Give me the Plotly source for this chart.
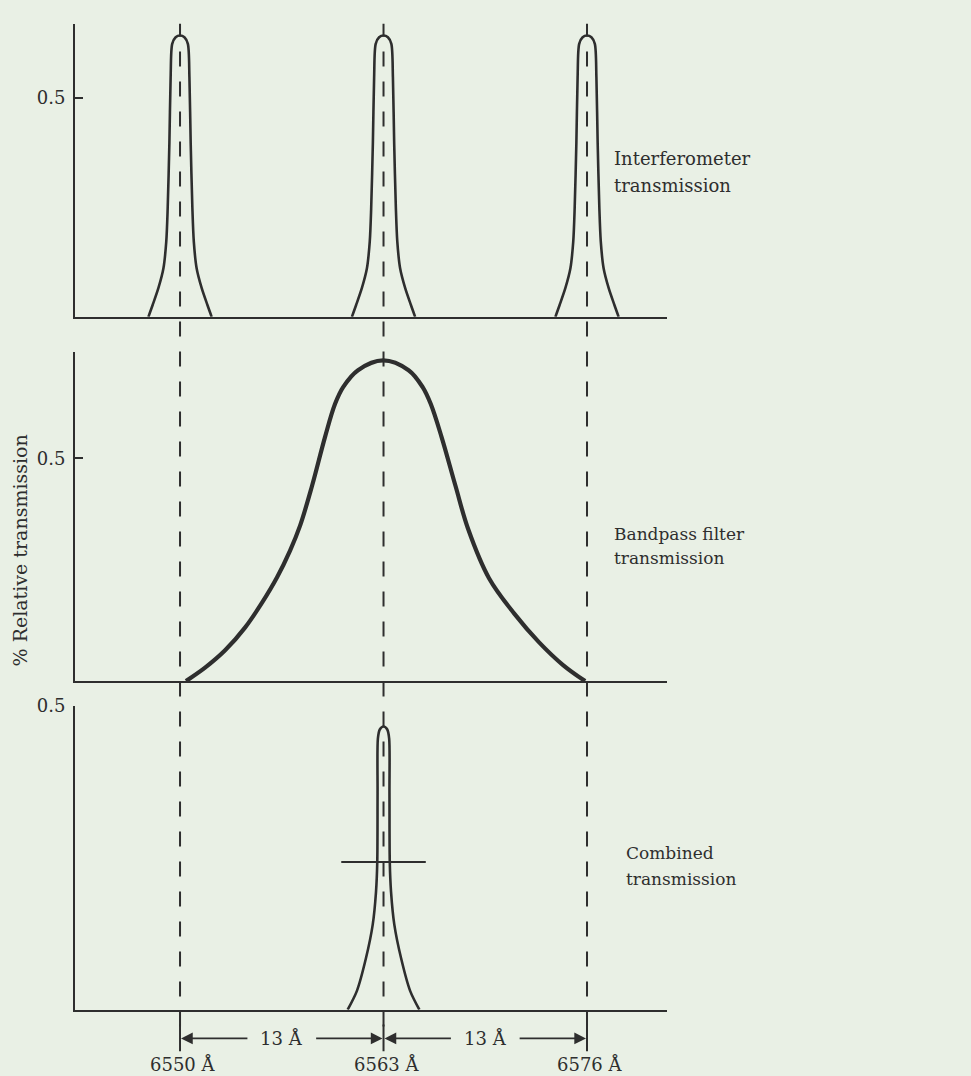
import plotly.graph_objects as go

# ---------------- data ----------------
line_centers = [6550, 6563, 6576]            # Å, dashed reference lines
center_labels = ["6550 Å", "6563 Å", "6576 Å"]
spacing_labels = ["13 Å", "13 Å"]
y_tick_vals = [0.5]
y_tick_text = ["0.5"]

# Interferometer transmission peak profile (offset from centre in Å, value)
interf_offset = [-2.02, -1.75, -1.38, -1.06, -0.88, -0.79, -0.68, -0.60, -0.50, -0.28, 0.0,
                 0.28, 0.50, 0.60, 0.68, 0.79, 0.88, 1.06, 1.38, 1.75, 2.02]
interf_value = [0.0, 0.027, 0.066, 0.111, 0.172, 0.247, 0.398, 0.548, 0.624, 0.639, 0.643,
                0.639, 0.624, 0.548, 0.398, 0.247, 0.172, 0.111, 0.066, 0.027, 0.0]

# Bandpass filter transmission
band_wl = [6550.38, 6551.60, 6552.88, 6554.15, 6555.24, 6556.20, 6557.03, 6557.67, 6558.43,
           6559.27, 6559.90, 6560.42, 6561.37, 6562.97, 6564.60, 6565.50, 6566.02, 6566.70,
           6567.60, 6568.40, 6569.74, 6571.34, 6572.94, 6574.47, 6575.88]
band_value = [0.0, 0.030, 0.069, 0.120, 0.176, 0.233, 0.293, 0.349, 0.438,
              0.549, 0.622, 0.660, 0.698, 0.720, 0.698, 0.660, 0.622, 0.549,
              0.438, 0.342, 0.231, 0.152, 0.087, 0.036, 0.0]

# Combined transmission peak (offset from 6563 Å, value)
comb_center = 6563
comb_offset = [-2.29, -1.70, -1.12, -0.69, -0.48, -0.40, -0.38, -0.36, -0.24, 0.0,
               0.24, 0.36, 0.38, 0.40, 0.48, 0.69, 1.12, 1.70, 2.29]
comb_value = [0.0, 0.031, 0.085, 0.140, 0.194, 0.243, 0.357, 0.446, 0.461, 0.466,
              0.461, 0.446, 0.357, 0.243, 0.194, 0.140, 0.085, 0.031, 0.0]
halfmax_wl = [6560.3, 6565.7]
halfmax_value = [0.243, 0.243]

# ---------------- styling ----------------
W, H = 971, 1076
L, R = 75, 667
BG = "#e9f0e5"
INK = "#2e2e2e"
FONT = "DejaVu Serif"
XR = [6543.29, 6581.11]


def px_x(px):
    return (px - L) / (R - L)


def px_y(py):
    return 1 - py / H


fig = go.Figure()

for c in line_centers:
    fig.add_trace(go.Scatter(
        x=[c + o for o in interf_offset], y=interf_value, mode="lines",
        line=dict(color=INK, width=2.6, shape="spline", smoothing=0.8),
        xaxis="x", yaxis="y", hoverinfo="skip", showlegend=False))

fig.add_trace(go.Scatter(
    x=band_wl, y=band_value, mode="lines",
    line=dict(color=INK, width=4.2, shape="spline", smoothing=1.0),
    xaxis="x2", yaxis="y2", hoverinfo="skip", showlegend=False))

fig.add_trace(go.Scatter(
    x=[comb_center + o for o in comb_offset], y=comb_value, mode="lines",
    line=dict(color=INK, width=2.6, shape="spline", smoothing=0.8),
    xaxis="x3", yaxis="y3", hoverinfo="skip", showlegend=False))

fig.add_trace(go.Scatter(
    x=halfmax_wl, y=halfmax_value, mode="lines",
    line=dict(color=INK, width=2),
    xaxis="x3", yaxis="y3", hoverinfo="skip", showlegend=False))

xax = dict(range=XR, showline=True, linewidth=2, linecolor=INK, showgrid=False,
           zeroline=False, showticklabels=False, ticks="", fixedrange=True)


def yax(domain, top):
    return dict(domain=domain, range=[0, top], showline=True, linewidth=2, linecolor=INK,
                showgrid=False, zeroline=False, tickmode="array", tickvals=y_tick_vals,
                ticktext=y_tick_text, ticks="inside", ticklen=8, tickwidth=2, tickcolor=INK,
                tickfont=dict(family=FONT, size=18, color=INK), ticklabelstandoff=4,
                fixedrange=True)


fig.update_layout(
    width=W, height=H,
    margin=dict(l=L, r=W - R, t=0, b=0),
    paper_bgcolor=BG, plot_bgcolor=BG,
    xaxis=dict(xax, anchor="y"),
    xaxis2=dict(xax, anchor="y2"),
    xaxis3=dict(xax, anchor="y3"),
    yaxis=yax([px_y(309), px_y(13)], 0.6697),
    yaxis2=yax([px_y(677), px_y(345)], 0.7378),
    yaxis3=yax([px_y(1009), px_y(702)], 0.5),
    showlegend=False,
)

shapes = []
for c in line_centers:
    shapes.append(dict(type="line", xref="x3", yref="paper", x0=c, x1=c,
                       y0=px_y(1026), y1=px_y(13),
                       line=dict(color=INK, width=2, dash="15px,15px")))
    shapes.append(dict(type="line", xref="x3", yref="paper", x0=c, x1=c,
                       y0=px_y(1051), y1=px_y(1024),
                       line=dict(color=INK, width=2)))
fig.update_layout(shapes=shapes)

ann = []


def text(px, py, s, size=18, anchor="left"):
    ann.append(dict(x=px_x(px), y=px_y(py), xref="paper", yref="paper", text=s,
                    showarrow=False, xanchor=anchor, yanchor="middle",
                    font=dict(family=FONT, size=size, color=INK)))


text(612, 149, "Interferometer")
text(612, 176, "transmission")
text(612, 528, "Bandpass filter", size=17)
text(612, 553, "transmission", size=17)
text(624, 851, "Combined", size=17)
text(624, 877, "transmission", size=17)

ann.append(dict(x=px_x(20), y=px_y(545), xref="paper", yref="paper",
                text="% Relative transmission", textangle=-90, showarrow=False,
                xanchor="center", yanchor="middle",
                font=dict(family=FONT, size=19, color=INK)))

arrow_y = px_y(1038)
for c, lab in zip(line_centers, center_labels):
    ann.append(dict(x=c, y=px_y(1064), xref="x3", yref="paper", text=lab,
                    showarrow=False, xanchor="center", yanchor="middle", xshift=3,
                    font=dict(family=FONT, size=18, color=INK)))

for i, lab in enumerate(spacing_labels):
    a, b = line_centers[i], line_centers[i + 1]
    mid = (a + b) / 2
    ann.append(dict(x=mid, y=arrow_y, xref="x3", yref="paper", text=lab,
                    showarrow=False, xanchor="center", yanchor="middle",
                    font=dict(family=FONT, size=18, color=INK)))
    for head, tail in ((a, mid - 2.1), (b, mid + 2.1)):
        ann.append(dict(x=head, y=arrow_y, xref="x3", yref="paper", text="",
                        showarrow=True, ax=tail, ay=0, axref="x3", ayref="pixel",
                        arrowhead=2, arrowsize=1.3, arrowwidth=1.8, arrowcolor=INK,
                        standoff=1, startstandoff=0))

fig.update_layout(annotations=ann)

fig.write_html(
    "out.html",
    config={"displayModeBar": False},
    post_script="document.body.style.margin='0';document.body.style.overflow='hidden';",
)
